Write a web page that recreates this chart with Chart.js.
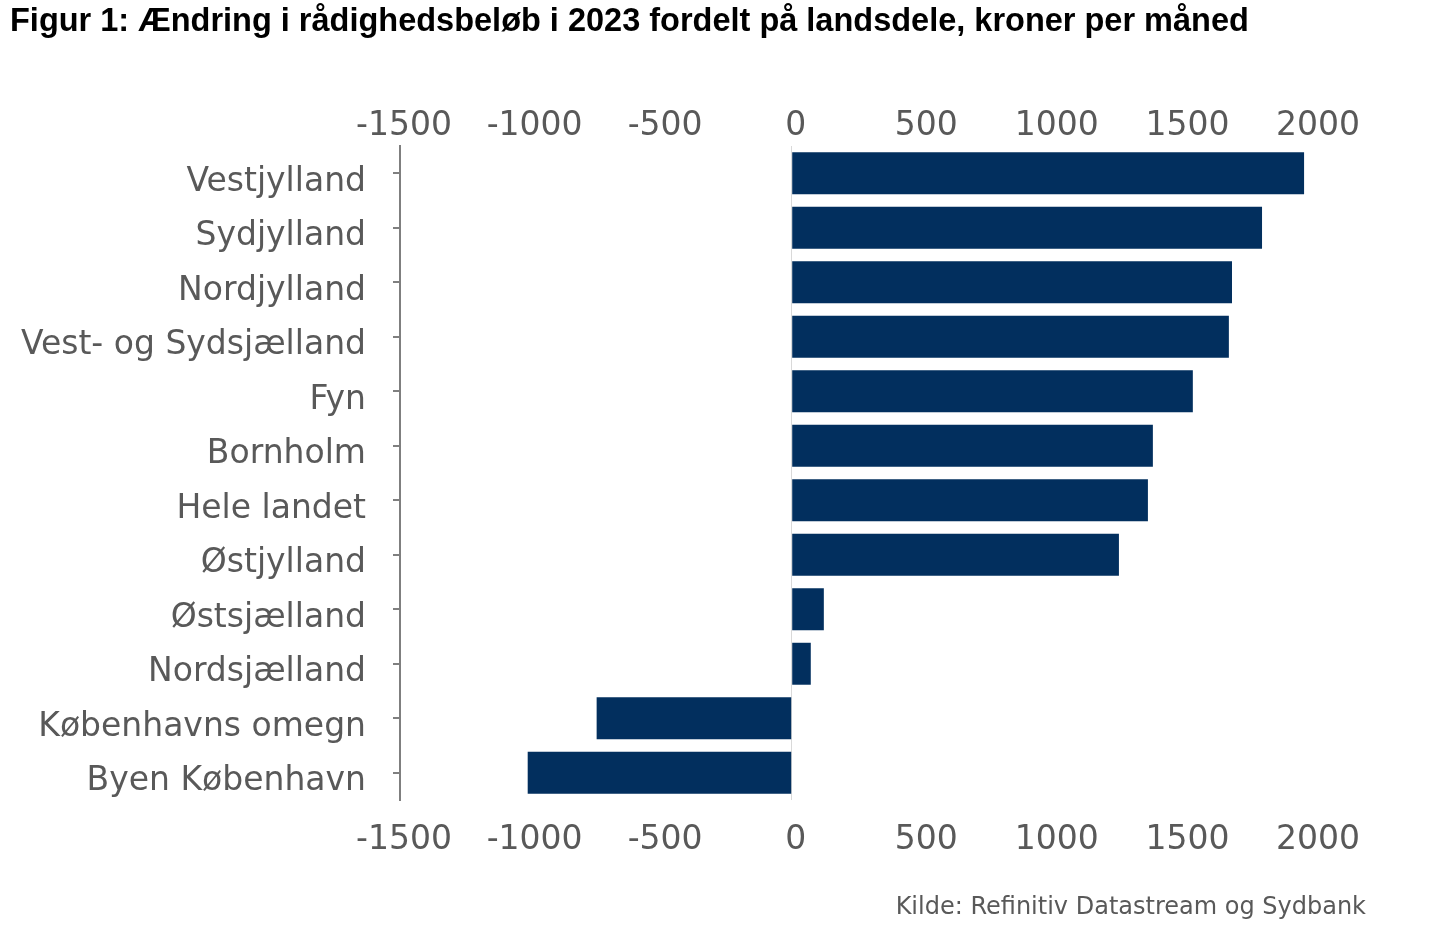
<!DOCTYPE html>
<html lang="da">
<head>
<meta charset="utf-8">
<title>Ændring i rådighedsbeløb</title>
<script src="https://cdn.jsdelivr.net/npm/chart.js@4"></script>
<style>
  html,body{margin:0;padding:0;background:#fff;}
  #wrap{width:1440px;height:933px;position:relative;}
</style>
</head>
<body>
<div id="wrap"><canvas id="chart"></canvas></div>
<script>
// data
const landsdele = ["Vestjylland","Sydjylland","Nordjylland","Vest- og Sydsjælland","Fyn","Bornholm",
  "Hele landet","Østjylland","Østsjælland","Nordsjælland","Københavns omegn","Byen København"];
const aendring = [1962, 1801, 1686, 1674, 1536, 1383, 1364, 1253, 123, 73, -747, -1011];
const xMin = -1500, xMax = 2000, xStep = 500;

const titel = "Figur 1: Ændring i rådighedsbeløb i 2023 fordelt på landsdele, kroner per måned";
const kilde = "Kilde: Refinitiv Datastream og Sydbank";

const GRAY = "#595959";
const LABEL_FONT = { family: "DejaVu Sans", size: 33 };

// kilde nederst til højre
const kildePlugin = {
  id: "kilde",
  afterDraw(chart){
    const c = chart.ctx;
    c.save();
    c.font = "24px 'DejaVu Sans'";
    c.fillStyle = GRAY;
    c.textAlign = "right";
    c.textBaseline = "alphabetic";
    c.fillText(kilde, 1366, 914);
    c.restore();
  }
};

const xAxis = (pos, pad, h) => ({
  type: "linear",
  position: pos,
  min: xMin, max: xMax,
  ticks: { stepSize: xStep, color: GRAY, font: LABEL_FONT, padding: pad, maxRotation: 0,
           labelOffset: 4, callback: v => String(v) },
  border: { display: false },
  grid: pos === "bottom"
    ? { drawTicks: false, color: c => (c.tick && c.tick.value === 0) ? "#d9d9d9" : "rgba(0,0,0,0)" }
    : { display: false },
  afterFit: s => { s.height = h; }
});

new Chart(document.getElementById("chart"), {
  type: "bar",
  data: {
    labels: landsdele,
    datasets: [{
      data: aendring,
      backgroundColor: "#022f5e",
      barPercentage: 0.77,
      categoryPercentage: 1,
      xAxisID: "x"
    }]
  },
  options: {
    indexAxis: "y",
    responsive: true,
    maintainAspectRatio: false,
    animation: false,
    layout: { padding: { left: 10, right: 126, top: 0, bottom: 71 } },
    plugins: {
      legend: { display: false },
      tooltip: { enabled: false },
      title: {
        display: true,
        text: titel,
        align: "start",
        color: "#000",
        font: { family: "Liberation Sans", size: 32.5, weight: "bold" },
        padding: { top: 3, bottom: 0 }
      }
    },
    scales: {
      x: xAxis("bottom", 21, 62),
      x2: xAxis("top", -8, 104),
      y: {
        position: "left",
        ticks: { color: GRAY, font: LABEL_FONT, padding: 27, labelOffset: 9 },
        border: { display: true, color: "#7f7f7f", width: 2 },
        grid: { drawOnChartArea: false, drawTicks: true, tickLength: 7, offset: false, color: "#7f7f7f", lineWidth: 2 },
        afterFit: s => { s.width = 390; }
      }
    }
  },
  plugins: [kildePlugin]
});
</script>
</body>
</html>
